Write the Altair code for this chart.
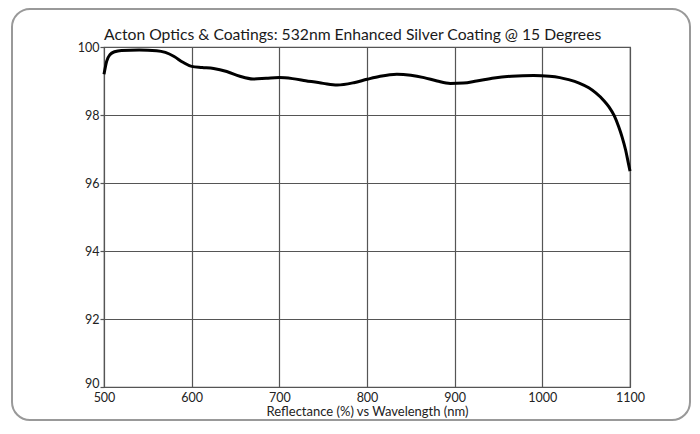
import altair as alt
import pandas as pd

wavelength = [500, 503, 507, 512, 520, 540, 560, 570, 580, 590, 600, 612, 625, 640,
              655, 670, 685, 700, 715, 730, 750, 766, 785, 800, 815, 834, 850, 865,
              880, 895, 910, 925, 945, 965, 990, 1008, 1020, 1030, 1042, 1053, 1061,
              1070, 1076, 1082, 1087, 1091, 1095, 1098, 1100]
reflectance = [99.20, 99.58, 99.78, 99.86, 99.90, 99.91, 99.89, 99.84, 99.72, 99.55,
               99.43, 99.40, 99.37, 99.28, 99.14, 99.06, 99.08, 99.10, 99.07, 99.01,
               98.93, 98.88, 98.95, 99.05, 99.14, 99.20, 99.17, 99.10, 99.00, 98.93,
               98.94, 99.00, 99.09, 99.14, 99.16, 99.14, 99.10, 99.04, 98.94, 98.80,
               98.65, 98.43, 98.24, 97.98, 97.66, 97.35, 96.97, 96.60, 96.35]
x_ticks = [500, 600, 700, 800, 900, 1000, 1100]
y_ticks = [90, 92, 94, 96, 98, 100]

title_text = "Acton Optics & Coatings: 532nm Enhanced Silver Coating @ 15 Degrees"
x_title = "Reflectance (%) vs Wavelength (nm)"

df = pd.DataFrame({"wavelength": wavelength, "reflectance": reflectance})
FONT = "Lato"

x_enc = alt.X(
    "wavelength:Q",
    scale=alt.Scale(domain=[500, 1100], nice=False, zero=False),
    axis=alt.Axis(values=x_ticks, format="d", grid=True, gridColor="#555555",
                  gridWidth=1.2, domain=False, ticks=False, labelPadding=4,
                  labelFontSize=12.5, labelColor="#222222", labelFont=FONT,
                  title=x_title, titleFont=FONT, titleFontSize=13,
                  titleFontWeight="normal", titleColor="#222222", titlePadding=2,
                  labelFlush=False),
)
y_enc = alt.Y(
    "reflectance:Q",
    scale=alt.Scale(domain=[90, 100], nice=False, zero=False),
    axis=alt.Axis(values=y_ticks, grid=True, gridColor="#555555", gridWidth=1.2,
                  domain=False, ticks=True, tickSize=4, tickColor="#555555",
                  tickWidth=1.2, labelPadding=1, labelFontSize=12.5,
                  labelColor="#222222", labelFont=FONT, title=None,
                  labelOffset={"condition": {"test": "datum.value == 90", "value": -4},
                               "value": 0}),
)

border = alt.Chart(alt.Data(values=[{"k": 1}])).mark_rect(
    fill=None, stroke="#999999", strokeWidth=2, cornerRadius=18, clip=False
).encode(
    x=alt.value(-92), x2=alt.value(586), y=alt.value(-38), y2=alt.value(373)
)

title = alt.Chart(alt.Data(values=[{"t": title_text}])).mark_text(
    align="left", baseline="alphabetic", font=FONT, fontSize=15.7,
    color="#1a1a1a", clip=False
).encode(x=alt.value(0), y=alt.value(-7), text="t:N")

line = alt.Chart(df).mark_line(
    color="#000000", strokeWidth=3, interpolate="monotone"
).encode(x=x_enc, y=y_enc)

chart = alt.layer(border, title, line).properties(
    width=526, height=340,
    padding={"left": 96, "top": 39, "right": 62, "bottom": 35},
    autosize=alt.AutoSizeParams(type="none"),
    background="white",
).configure_view(stroke="#555555", strokeWidth=1.2)

chart.save("out.html", embed_options={"renderer": "svg", "actions": False})
